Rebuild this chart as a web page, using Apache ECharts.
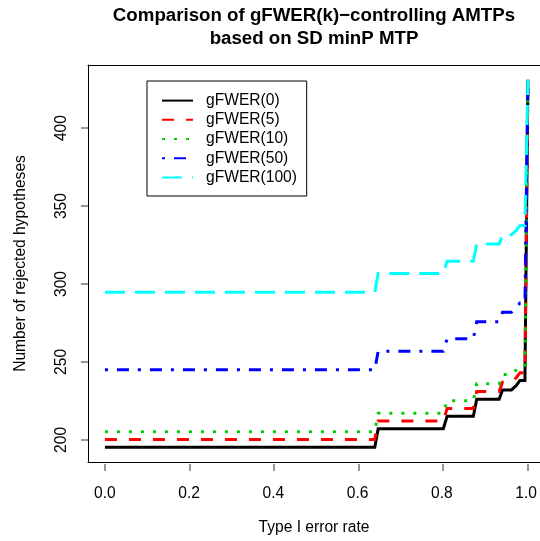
<!DOCTYPE html>
<html>
<head>
<meta charset="utf-8">
<script src="https://cdn.jsdelivr.net/npm/echarts@6/dist/echarts.min.js"></script>
<style>
html,body{margin:0;padding:0;background:#fff;}
#chart{width:540px;height:541px;}
</style>
</head>
<body>
<div id="chart"></div>
<script>
// Type I error rate (x values shared by all curves)
var alpha = [0, 0.638, 0.646, 0.800, 0.809, 0.871, 0.879, 0.932, 0.940, 0.961, 0.973, 0.981, 0.993, 1.0];
// Number of rejected hypotheses
var gfwer0   = [194, 194, 206, 206, 214, 214, 225, 225, 231, 231, 234, 237, 237, 431];
var gfwer5   = [199, 199, 211, 211, 219, 219, 230, 230, 236, 236, 239, 242, 242, 431];
var gfwer10  = [204, 204, 216, 216, 224, 224, 235, 235, 241, 241, 244, 247, 247, 431];
var gfwer50  = [244, 244, 256, 256, 264, 264, 275, 275, 281, 281, 284, 287, 287, 431];
var gfwer100 = [294, 294, 306, 306, 314, 314, 325, 325, 331, 331, 334, 337, 337, 431];
var seriesNames = ['gFWER(0)', 'gFWER(5)', 'gFWER(10)', 'gFWER(50)', 'gFWER(100)'];
// tick values
var xTicks = [0, 0.2, 0.4, 0.6, 0.8, 1.0];
var yTicks = [200, 250, 300, 350, 400];
var xTickMin = 0, xTickMax = 1, xTickStep = 0.2;
var yTickMin = 200, yTickMax = 400, yTickStep = 50;

var FONT = 'Liberation Sans, Arial, Helvetica, sans-serif';
function pairs(xs, ys) { return xs.map(function (x, i) { return [x, ys[i]]; }); }

var styles = [
  { color: '#000000', type: 'solid' },
  { color: '#FF0000', type: [12, 12] },
  { color: '#00CD00', type: [3, 9] },
  { color: '#0000FF', type: [3, 9, 12, 9] },
  { color: '#00FFFF', type: [20, 10] }
];
var values = [gfwer0, gfwer5, gfwer10, gfwer50, gfwer100];

// plot-region geometry (R-style 4% padding)
var X_MIN = -0.04, X_MAX = 1.0286, Y_MIN = 184.52, Y_MAX = 440.48;
var G_LEFT = 88, G_TOP = 65, G_W = 452, G_H = 399, TICK = 7;
var PX_X = G_W / (X_MAX - X_MIN);
var PX_Y = G_H / (Y_MAX - Y_MIN);
function sx(v) { return G_LEFT + (v - X_MIN) * PX_X; }
function sy(v) { return G_TOP + (Y_MAX - v) * PX_Y; }

var axisTxt = { fontFamily: FONT, fontSize: 15.6, color: '#000' };
function lineBlack() { return { color: '#000', width: 1 }; }
function hidden(gi) { return { gridIndex: gi, type: 'value', show: false, min: 0, max: 1 }; }

var lineSeries = values.map(function (v, i) {
  return {
    name: seriesNames[i], type: 'line', data: pairs(alpha, v),
    xAxisIndex: 0, yAxisIndex: 0,
    symbol: 'none', showSymbol: false, z: 2 + i,
    lineStyle: { color: styles[i].color, width: 3, type: styles[i].type, cap: 'butt', join: 'miter' },
    itemStyle: { color: styles[i].color }
  };
});

// tick marks as filled rects at the scale positions
var tickEls = [];
xTicks.forEach(function (t) {
  tickEls.push({ type: 'rect', silent: true, z: 100, zlevel: 0,
    shape: { x: Math.round(sx(t)) - 0.5, y: G_TOP + G_H, width: 1, height: TICK },
    style: { fill: '#333' } });
});
yTicks.forEach(function (t) {
  tickEls.push({ type: 'rect', silent: true, z: 100, zlevel: 0,
    shape: { x: G_LEFT - TICK, y: Math.round(sy(t)) - 0.5, width: TICK, height: 1 },
    style: { fill: '#333' } });
});

var chart = echarts.init(document.getElementById('chart'), null, { renderer: 'canvas' });
chart.setOption({
  animation: false,
  backgroundColor: '#ffffff',
  title: {
    text: 'Comparison of gFWER(k)\u2212controlling AMTPs\nbased on SD minP MTP',
    left: 314, top: 5, textAlign: 'center', padding: 0,
    textStyle: { fontFamily: FONT, fontWeight: 'bold', fontSize: 18.7, lineHeight: 22.5, color: '#000' }
  },
  legend: {
    orient: 'vertical', left: 147, top: 81,
    padding: [10, 9.7, 9, 14],
    borderColor: '#000', borderWidth: 1, borderRadius: 0,
    itemWidth: 31, itemHeight: 14, itemGap: 0,
    selectedMode: false,
    itemStyle: { opacity: 0, borderWidth: 0 },
    textStyle: { fontFamily: FONT, fontSize: 15.6, color: '#000', lineHeight: 19.2, padding: [0, 0, 0, 8] },
    data: seriesNames
  },
  grid: [
    { left: G_LEFT, top: G_TOP, right: 0, height: G_H, show: false },
    { left: sx(xTickMin), width: (xTickMax - xTickMin) * PX_X, top: G_TOP + G_H, height: TICK, show: false },
    { left: G_LEFT - TICK, width: TICK, top: sy(yTickMax), height: (yTickMax - yTickMin) * PX_Y, show: false }
  ],
  xAxis: [{
    gridIndex: 0, type: 'value', min: X_MIN, max: X_MAX, position: 'bottom',
    name: 'Type I error rate', nameLocation: 'middle', nameGap: 58, nameTextStyle: axisTxt,
    splitLine: { show: false },
    axisLine: { show: true, onZero: false, lineStyle: lineBlack() },
    axisTick: { show: false }, axisLabel: { show: false }
  }, {
    gridIndex: 0, type: 'value', min: X_MIN, max: X_MAX, position: 'top',
    splitLine: { show: false },
    axisLine: { show: true, onZero: false, lineStyle: lineBlack() },
    axisTick: { show: false }, axisLabel: { show: false }
  }, {
    gridIndex: 1, type: 'value', min: xTickMin, max: xTickMax, interval: xTickStep, position: 'bottom',
    splitLine: { show: false }, axisLine: { show: false }, axisTick: { show: false },
    axisLabel: Object.assign({ margin: 15, showMinLabel: true, showMaxLabel: true,
      formatter: function (v) { return v.toFixed(1); } }, axisTxt)
  }, hidden(2)],
  yAxis: [{
    gridIndex: 0, type: 'value', min: Y_MIN, max: Y_MAX,
    name: 'Number of rejected hypotheses', nameLocation: 'middle', nameGap: 59, nameTextStyle: axisTxt,
    splitLine: { show: false },
    axisLine: { show: true, onZero: false, lineStyle: lineBlack() },
    axisTick: { show: false }, axisLabel: { show: false }
  }, hidden(1), {
    gridIndex: 2, type: 'value', min: yTickMin, max: yTickMax, interval: yTickStep, position: 'left',
    splitLine: { show: false }, axisLine: { show: false }, axisTick: { show: false },
    axisLabel: Object.assign({ rotate: 90, margin: 11, showMinLabel: true, showMaxLabel: true }, axisTxt)
  }],
  graphic: { elements: tickEls },
  series: lineSeries
});
</script>
</body>
</html>
